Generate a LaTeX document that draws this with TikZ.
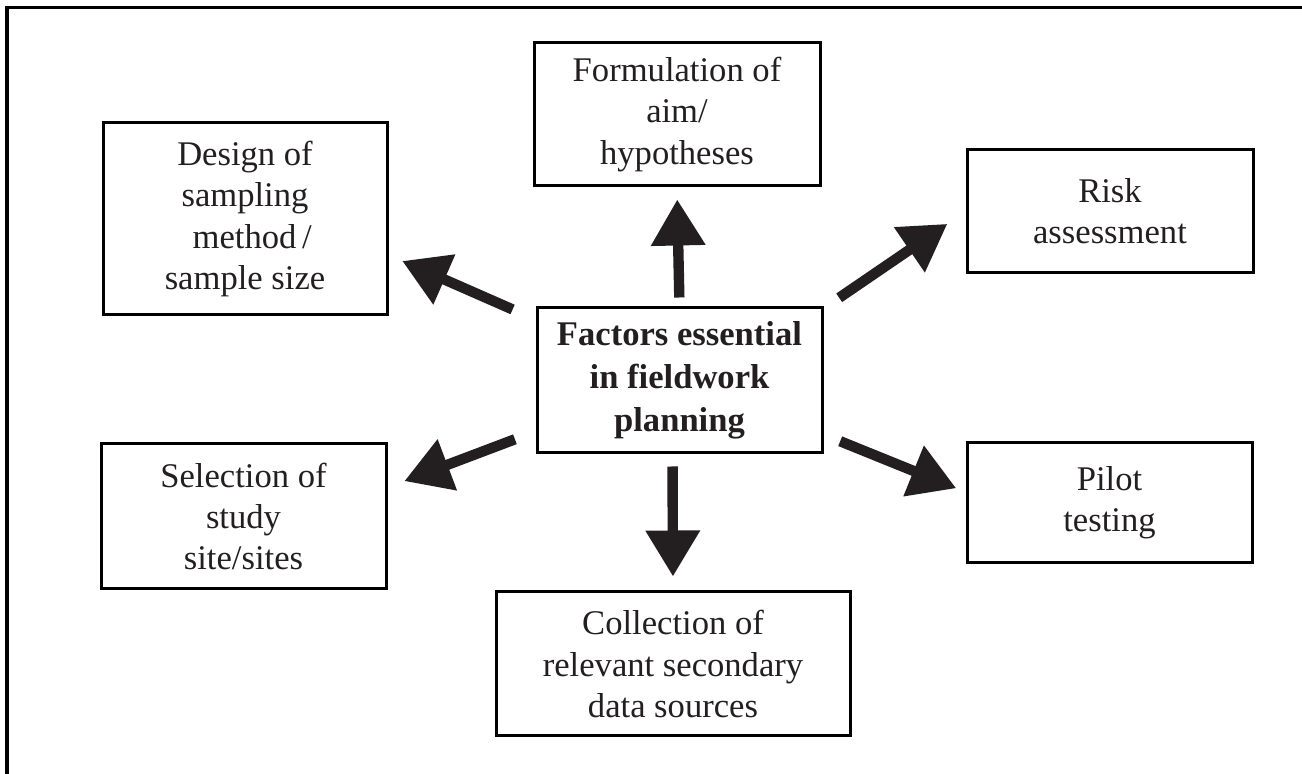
\documentclass[tikz,border=0pt]{standalone}
\usepackage{fontspec}
\setmainfont{Liberation Serif}
\usepackage{tikz}
\usetikzlibrary{calc, arrows.meta}

\definecolor{inkgray}{HTML}{231F20}

\begin{document}
\begin{tikzpicture}[x=0.5pt, y=-0.5pt,
                factor/.style={draw=black, line width=1.5pt, align=center, inner sep=0pt,
                    text=inkgray, font=\fontsize{17.3}{20.6}\selectfont},
                bigarrow/.style={draw=inkgray, line width=5.2pt,
                    -{Triangle[width=26pt, length=23pt, fill=inkgray]}}]
            \useasboundingbox (0,0) rectangle (1302,774);
            % outer frame (top and left only)
            \draw[line width=1.6pt] (7,774) -- (7,7.5) -- (1302,7.5);

            \node[factor, font=\bfseries\fontsize{17.3}{21.5}\selectfont,
                minimum width=142.5pt, minimum height=72.5pt] (hub) at (679.5,380.5)
                {Factors essential\\in fieldwork\\planning};

            \node[factor, minimum width=143pt, minimum height=71.5pt] (aim) at (677,114.5)
                {Formulation of\\aim/\\hypotheses};
            \node[factor, minimum width=142pt, minimum height=96pt] (design) at (245,219)
                {Design of\\sampling\\\ \,method\,/\\sample size};
            \node[factor, minimum width=143pt, minimum height=61.5pt] (risk) at (1110,211.5)
                {Risk\\assessment};
            \node[factor, minimum width=142.5pt, minimum height=72.5pt] (site) at (243.5,516.5)
                {Selection of\\study\\site/sites};
            \node[factor, minimum width=142.5pt, minimum height=60pt] (pilot) at (1109.5,503)
                {Pilot\\testing};
            \node[factor, minimum width=177pt, minimum height=72pt] (sources) at (673,664)
                {Collection of\\relevant secondary\\data sources};

            % arrows out of the hub
            \draw[bigarrow, shorten <=4.5pt, shorten >=6pt]
                (hub.north) -- (aim.south);
            \draw[bigarrow, shorten <=6pt, shorten >=7pt]
                ([xshift=-3.5pt]hub.south) -- (sources.north);
            \draw[bigarrow, shorten <=9.5pt, shorten >=11pt]
                ([yshift=-1pt]hub.north east) -- (risk.west);
            \draw[bigarrow, shorten <=9pt, shorten >=5pt]
                ([yshift=10pt]hub.south east) -- ([yshift=5.5pt]pilot.west);
            \draw[bigarrow, shorten <=12.5pt, shorten >=7.5pt]
                ([yshift=-6.5pt]hub.north west) -- ([yshift=-18pt]design.east);
            \draw[bigarrow, shorten <=11pt, shorten >=9pt]
                ([yshift=11.5pt]hub.south west) -- ([yshift=14.5pt]site.east);
        \end{tikzpicture}
\end{document}
